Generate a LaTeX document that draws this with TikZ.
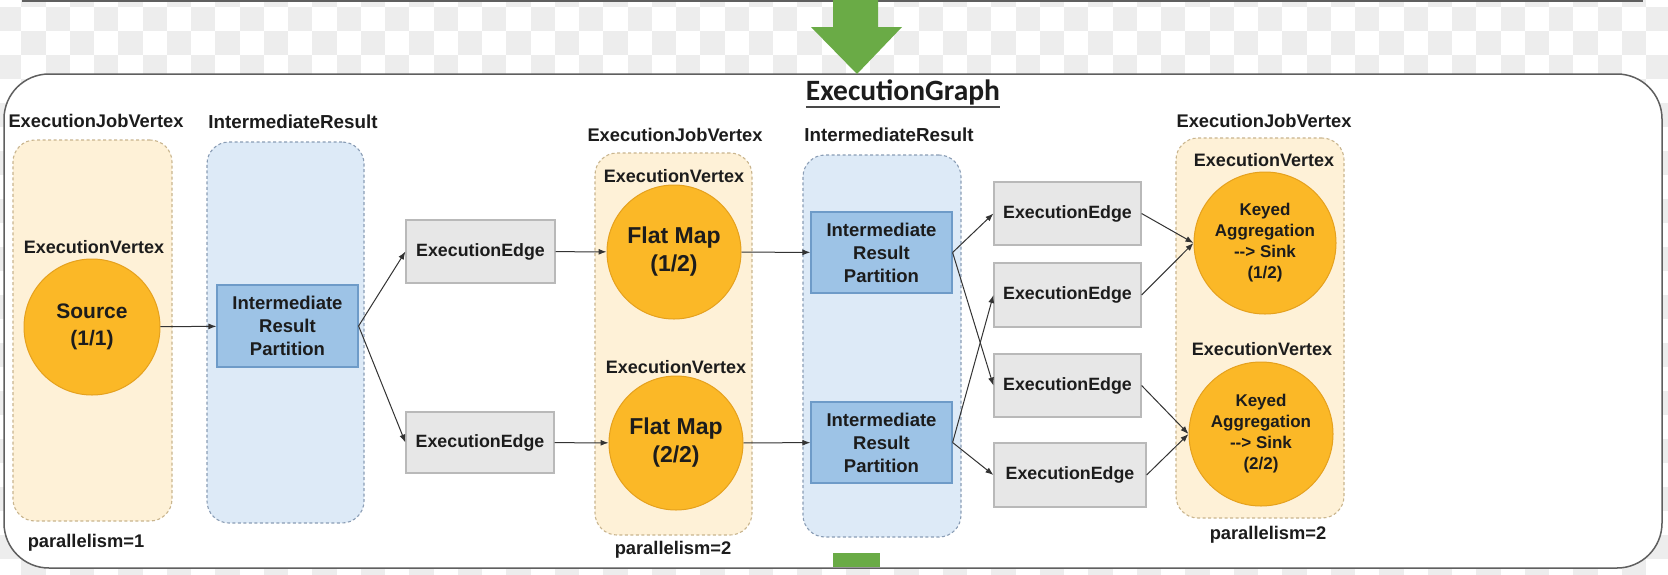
\documentclass[tikz,border=0pt]{standalone}
\usepackage{fontspec}
\setmainfont{Liberation Sans}
\newfontfamily\titlefont{Carlito}
\usetikzlibrary{arrows.meta,calc}
\definecolor{chkgray}{HTML}{EDEDED}
\definecolor{yelbg}{HTML}{FEF1D7}
\definecolor{yelbd}{HTML}{C9B58E}
\definecolor{blubg}{HTML}{DDEAF7}
\definecolor{blubd}{HTML}{8A9DB5}
\definecolor{amber}{HTML}{FBB827}
\definecolor{amberbd}{HTML}{E5A11E}
\definecolor{irpfill}{HTML}{9DC3E6}
\definecolor{irpbd}{HTML}{6E9BC8}
\definecolor{edgefill}{HTML}{E7E7E7}
\definecolor{edgebd}{HTML}{B9B9B9}
\definecolor{txt}{HTML}{1C1C1C}
\definecolor{flowgreen}{HTML}{6AAB46}
\definecolor{framegray}{HTML}{5F5F5F}
\tikzset{
  jobbox/.style={draw=yelbd, fill=yelbg, line width=1.1pt, dash pattern=on 3pt off 2.5pt, rounded corners=22pt, inner sep=0pt},
  resbox/.style={draw=blubd, fill=blubg, line width=1.1pt, dash pattern=on 3pt off 2.5pt, rounded corners=22pt, inner sep=0pt},
  vcircle/.style={circle, fill=amber, draw=amberbd, line width=1pt, inner sep=0pt, align=center, text=txt, font=\bfseries},
  irp/.style={rectangle, fill=irpfill, draw=irpbd, line width=1.2pt, inner sep=0pt, align=center, text=txt, font=\bfseries\fontsize{18.5}{23}\selectfont},
  edgebox/.style={rectangle, fill=edgefill, draw=edgebd, line width=1.2pt, inner sep=0pt, text=txt, font=\bfseries\fontsize{17.8}{20}\selectfont},
  lbl/.style={text=txt, inner sep=0pt, font=\bfseries\fontsize{18.3}{20}\selectfont},
  vlbl/.style={text=txt, inner sep=0pt, font=\bfseries\fontsize{18}{20}\selectfont},
  conn/.style={-{Latex[length=8pt,width=6pt]}, draw=black!80, line width=1pt},
}
\begin{document}
\begin{tikzpicture}[x=1pt,y=-1pt]
\useasboundingbox (0,0) rectangle (1668,574);
\fill[white] (0,0) rectangle (1668,574);
% checker background
\foreach \r in {-1,...,23}{
  \pgfmathsetmacro{\yy}{7+24*\r}
  \pgfmathsetmacro{\off}{mod(\r+2,2)==0 ? -3 : 21.25}
  \foreach \c in {0,...,35}{
    \fill[chkgray] ({\off+48.5*\c},\yy) rectangle ++(24.25,24);
  }
}
% top line of previous frame
\draw[framegray, line width=1.5pt] (22,1) -- (1643,1);
% outer frame
\draw[framegray, fill=white, line width=1.5pt, rounded corners=45pt] (4,74) rectangle (1662,568);
% green flow arrows
\fill[flowgreen] (833,-2) -- (878,-2) -- (878,27) -- (902,27) -- (857,74) -- (811,27) -- (833,27) -- cycle;
\fill[flowgreen] (833,553) rectangle (880,567);
% title
\node[text=txt, inner sep=0pt, font=\titlefont\bfseries\fontsize{29.5}{31}\selectfont] (title) at (903,92) {ExecutionGraph};
\draw[txt!80, line width=1.8pt] ($(title.south west)+(0,2)$) -- ($(title.south east)+(0,2)$);

% ---- column 1: source job vertex
\node[jobbox, minimum width=159pt, minimum height=381pt] (jv1) at (92.5,330.5) {};
\node[lbl] (jv1l) at (96,121) {ExecutionJobVertex};
\node[vlbl] (ev1l) at (94,247) {ExecutionVertex};
\node[vcircle, minimum size=136pt, font=\bfseries\fontsize{21}{27}\selectfont] (src) at (92,327) {Source\\(1/1)};
\node[lbl] (par1) at (86,543) {parallelism=1};

% ---- column 2: intermediate result
\node[resbox, minimum width=157pt, minimum height=381pt] (ir1) at (285.5,332.5) {};
\node[lbl, font=\bfseries\fontsize{18.8}{20}\selectfont] (ir1l) at (293,122) {IntermediateResult};
\node[irp, minimum width=141pt, minimum height=82pt] (irp1) at (287.5,326) {Intermediate\\Result\\Partition};

% ---- column 3: edges
\node[edgebox, minimum width=149pt, minimum height=63pt] (ea) at (480.5,251.5) {ExecutionEdge};
\node[edgebox, minimum width=148pt, minimum height=61pt] (eb) at (480,442.5) {ExecutionEdge};

% ---- column 4: flat map job vertex
\node[jobbox, minimum width=157pt, minimum height=382pt] (jv2) at (673.5,344) {};
\node[lbl] (jv2l) at (675,135) {ExecutionJobVertex};
\node[vlbl] (ev2a) at (674,176) {ExecutionVertex};
\node[vcircle, minimum size=134pt, font=\bfseries\fontsize{23}{28}\selectfont] (fm1) at (674,252) {Flat Map\\(1/2)};
\node[vlbl] (ev2b) at (676,367) {ExecutionVertex};
\node[vcircle, minimum size=134pt, font=\bfseries\fontsize{23}{28}\selectfont] (fm2) at (676,443) {Flat Map\\(2/2)};
\node[lbl] (par2) at (673,550) {parallelism=2};

% ---- column 5: intermediate result
\node[resbox, minimum width=158pt, minimum height=382pt] (ir2) at (882,346) {};
\node[lbl, font=\bfseries\fontsize{18.8}{20}\selectfont] (ir2l) at (889,135) {IntermediateResult};
\node[irp, minimum width=141pt, minimum height=81pt] (irp2a) at (881.5,252.5) {Intermediate\\Result\\Partition};
\node[irp, minimum width=141pt, minimum height=81pt] (irp2b) at (881.5,442.5) {Intermediate\\Result\\Partition};

% ---- column 6: edges
\node[edgebox, minimum width=147pt, minimum height=63pt] (e1) at (1067.5,213.5) {ExecutionEdge};
\node[edgebox, minimum width=147pt, minimum height=64pt] (e2) at (1067.5,295) {ExecutionEdge};
\node[edgebox, minimum width=147pt, minimum height=63pt] (e3) at (1067.5,385.5) {ExecutionEdge};
\node[edgebox, minimum width=152pt, minimum height=64pt] (e4) at (1070,475) {ExecutionEdge};

% ---- column 7: keyed aggregation job vertex
\node[jobbox, minimum width=168pt, minimum height=380pt] (jv3) at (1260,328) {};
\node[lbl] (jv3l) at (1264,121) {ExecutionJobVertex};
\node[vlbl] (ev3a) at (1264,160) {ExecutionVertex};
\node[vcircle, minimum size=142pt, font=\bfseries\fontsize{17}{21}\selectfont] (ka1) at (1265,243) {Keyed\\Aggregation\\-{}-{}> Sink\\(1/2)};
\node[vlbl] (ev3b) at (1262,349) {ExecutionVertex};
\node[vcircle, minimum size=144pt, font=\bfseries\fontsize{17}{21}\selectfont] (ka2) at (1261,434) {Keyed\\Aggregation\\-{}-{}> Sink\\(2/2)};
\node[lbl] (par3) at (1268,535) {parallelism=2};

% ---- connectors
\draw[conn] (src) -- (irp1);
\draw[conn] (irp1.east) -- (ea.west);
\draw[conn] (irp1.east) -- (eb.west);
\draw[conn] (ea) -- (fm1);
\draw[conn] (eb) -- (fm2);
\draw[conn] (fm1) -- (irp2a);
\draw[conn] (fm2) -- (irp2b);
\draw[conn] (irp2a.east) -- (e1.west);
\draw[conn] (irp2a.east) -- (e3.west);
\draw[conn] (irp2b.east) -- (e2.west);
\draw[conn] (irp2b.east) -- (e4.west);
\draw[conn] (e1.east) -- (ka1.west);
\draw[conn] (e2.east) -- (ka1.west);
\draw[conn] (e3.east) -- (ka2.west);
\draw[conn] (e4.east) -- (ka2.west);
\end{tikzpicture}
\end{document}
